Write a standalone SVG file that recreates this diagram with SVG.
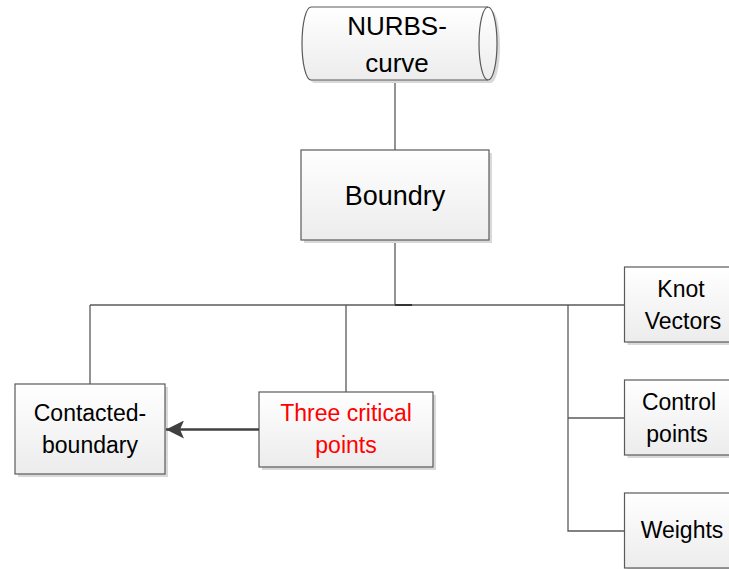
<svg xmlns="http://www.w3.org/2000/svg" width="729" height="569" viewBox="0 0 729 569">
<defs>
<linearGradient id="g" x1="0" y1="0" x2="0" y2="1">
<stop offset="0" stop-color="#ffffff"/>
<stop offset="1" stop-color="#ececec"/>
</linearGradient>
<marker id="ah" viewBox="0 0 18 18" refX="18" refY="9" markerWidth="18" markerHeight="18" markerUnits="userSpaceOnUse" orient="auto">
<path d="M18,9 L0,0 L4,9 L0,18 Z" fill="#404040"/>
</marker>
<style>
.box{fill:url(#g);stroke:#5a5a5a;stroke-width:1.2}
.sh{fill:#d9d9d9}
.t{font-family:"Liberation Sans",Arial,sans-serif;font-size:23px;fill:#000;text-anchor:middle}
.big{font-size:26px}
.red{fill:#ff0000}
.c{fill:none;stroke:#5a5a5a;stroke-width:1.3}
</style>
</defs>
<rect width="729" height="569" fill="#ffffff"/>
<g id="connectors">
<path class="c" d="M395,80 V150"/>
<path class="c" d="M395,240 V305"/>
<path class="c" d="M90,305 H625"/>
<path d="M395,305 H412" stroke="#333" stroke-width="2"/>
<path class="c" d="M90,305 V384"/>
<path class="c" d="M346,305 V392"/>
<path class="c" d="M568,305 V531 H625"/>
<path class="c" d="M568,418 H625"/>
</g>
<g id="nurbs">
<path class="sh" d="M314,10 L491,10 A9,36.5 0 0 1 491,83 L314,83 A9,36.5 0 0 1 314,10 Z"/>
<path class="box" d="M311,7 L488,7 A9,36.5 0 0 1 488,80 L311,80 A9,36.5 0 0 1 311,7 Z"/>
<path d="M488,7 A9,36.5 0 0 0 488,80" fill="none" stroke="#5a5a5a" stroke-width="1.2"/>
<text class="t big" x="397" y="35">NURBS-</text>
<text class="t big" x="397" y="72">curve</text>
</g>
<g id="boundry">
<rect class="sh" x="304" y="153" width="188" height="90"/>
<rect class="box" x="301" y="150" width="188" height="90"/>
<text class="t" x="395" y="205" style="font-size:27px">Boundry</text>
</g>
<g id="contacted">
<rect class="sh" x="18" y="387" width="150" height="90"/>
<rect class="box" x="15" y="384" width="150" height="90"/>
<text class="t" x="90" y="421">Contacted-</text>
<text class="t" x="90" y="453">boundary</text>
</g>
<g id="three">
<rect class="sh" x="262" y="395" width="174" height="75"/>
<rect class="box" x="259" y="392" width="174" height="75"/>
<text class="t red" x="346" y="421">Three critical</text>
<text class="t red" x="346" y="453">points</text>
</g>
<g id="knot">
<rect class="sh" x="627.5" y="270" width="112" height="75"/>
<rect class="box" x="624.5" y="267" width="112" height="75"/>
<text class="t" x="681" y="297">Knot</text>
<text class="t" x="683" y="329">Vectors</text>
</g>
<g id="control">
<rect class="sh" x="627.5" y="383" width="112" height="75"/>
<rect class="box" x="624.5" y="380" width="112" height="75"/>
<text class="t" x="679" y="410">Control</text>
<text class="t" x="677" y="442">points</text>
</g>
<g id="weights">
<rect class="sh" x="627.5" y="496" width="112" height="75"/>
<rect class="box" x="624.5" y="493" width="112" height="75"/>
<text class="t" x="682" y="538">Weights</text>
</g>
<g id="arrow">
<path d="M259,429.5 H166" fill="none" stroke="#404040" stroke-width="2.6" marker-end="url(#ah)"/>
</g>
</svg>
